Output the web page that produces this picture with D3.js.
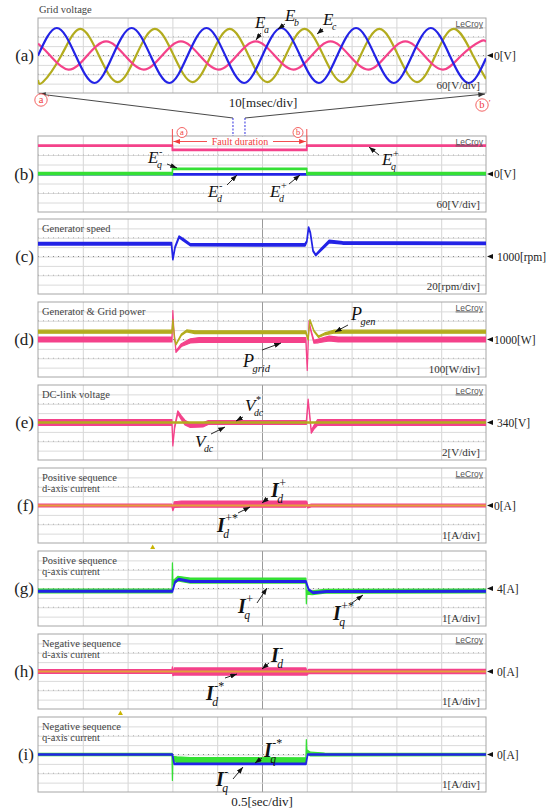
<!DOCTYPE html>
<html lang="en">
<head>
<meta charset="UTF-8">
<title>Fault ride-through waveforms</title>
<style>
  body { margin: 0; background: #fff; }
  svg { display: block; }
  text { font-family: 'Liberation Serif', 'DejaVu Serif', serif; }
</style>
</head>
<body>
<svg id="chart" width="550" height="812"></svg>
<script src="https://cdn.jsdelivr.net/npm/d3@7"></script>
<script>
// ---- data read off the scope captures -------------------------------------
// (a) grid phase voltages, [ms, V] at peaks / zero crossings
const ea = [[0,76],[2.7,0],[6.8,-90],[11.0,0],[15.2,90],[19.4,0],[23.6,-90],[27.7,0],[31.9,90],[36.1,0],[40.3,-90],[44.4,0],[48.6,90],[52.8,0],[57.0,-90],[61.1,0],[65.3,90],[69.5,0],[73.7,-90],[77.8,0],[82.0,90],[86.2,0],[90.4,-90],[94.5,0],[98.7,90],[100,87]];
const eb = [[0,-1],[4.2,176],[8.4,0],[12.6,-176],[16.7,0],[20.9,176],[25.1,0],[29.3,-176],[33.4,0],[37.6,176],[41.8,0],[46.0,-176],[50.1,0],[54.3,176],[58.5,0],[62.7,-176],[66.8,0],[71.0,176],[75.2,0],[79.4,-176],[83.5,0],[87.7,176],[91.9,0],[96.1,-176],[100,-18]];
const ec = [[0,-157],[1.1,-170],[5.2,0],[9.4,170],[13.6,0],[17.8,-170],[21.9,0],[26.1,170],[30.3,0],[34.5,-170],[38.6,0],[42.8,170],[47.0,0],[51.2,-170],[55.3,0],[59.5,170],[63.7,0],[67.9,-170],[72.0,0],[76.2,170],[80.4,0],[84.6,-170],[88.7,0],[92.9,170],[97.1,0],[100,-150]];

// (b)-(i): [s, value, noise half-band]
const eqPos = [[0,179,3],[1.5,179,3],[1.5,152,3],[3.0,152,3],[3.0,179,3],[5,179,3]];
const eqNeg = [[0,3,7],[1.5,3,7],[1.5,32,4],[3.0,32,4],[3.0,3,7],[5,3,7]];
const edNeg = [[0,0,3],[1.5,0,3],[1.5,-2,3],[3.0,-2,3],[3.0,0,3],[5,0,3]];

const speed = [[0,1027,2.5],[1.49,1027,2.5],[1.505,994,1],[1.53,1020,1],[1.575,1042,1.5],[1.62,1036,2],[1.7,1025,2],[2.98,1025,2.5],[3.0,1032,1],[3.02,1062,1],[3.04,1050,1],[3.07,1012,1],[3.1,1003,1],[3.16,1015,2],[3.25,1032,2.5],[3.4,1029,2.5],[5,1028,2.5]];

const pGen = [[0,1083,16],[1.495,1083,16],[1.505,1208,5],[1.525,1000,5],[1.54,949,6],[1.6,1050,8],[1.66,1092,10],[1.75,1078,15],[2.99,1077,15],[3.015,1000,5],[3.035,1208,5],[3.08,1090,6],[3.13,1030,8],[3.2,1060,10],[3.3,1083,16],[5,1083,16]];
const pGrid = [[0,1000,26],[1.495,1000,26],[1.505,1304,5],[1.515,1120,5],[1.54,870,8],[1.6,940,15],[1.7,985,22],[1.8,995,26],[2.99,995,26],[3.005,675,5],[3.025,1190,5],[3.05,1080,10],[3.08,975,15],[3.13,985,20],[3.25,1010,26],[3.35,1000,26],[5,1000,26]];

const vdcRef = [[0,340,0.12],[5,340,0.12]];
const vdc = [[0,340,0.6],[1.495,340,0.6],[1.505,335.2,0.2],[1.525,339,0.3],[1.56,342.2,0.3],[1.6,341,0.4],[1.64,340,0.5],[1.7,339.4,0.45],[1.84,339.5,0.45],[1.9,340,0.4],[2.995,340,0.4],[3.015,344.8,0.2],[3.035,341,0.3],[3.05,338,0.3],[3.08,339,0.4],[3.12,340,0.6],[5,340,0.6]];

const idPosRef = [[0,0,0.04],[5,0,0.04]];
const idPos = [[0,0,0.16],[1.495,0,0.16],[1.505,-0.45,0.1],[1.52,0.1,0.3],[1.6,0.15,0.33],[2.99,0.15,0.33],[3.0,0.3,0.15],[3.01,-0.1,0.15],[3.05,0,0.16],[5,0,0.16]];

const iqPosRef = [[0,3.73,0.2],[1.495,3.73,0.2],[1.5,6.69,0.05],[1.505,4.6,0.2],[1.56,5.05,0.25],[1.7,4.85,0.27],[2.99,4.85,0.27],[2.995,2.42,0.05],[3.0,3.6,0.2],[3.06,3.55,0.2],[3.2,3.7,0.2],[5,3.73,0.2]];
const iqPos = [[0,3.7,0.07],[1.5,3.7,0.07],[1.53,4.7,0.07],[1.57,4.98,0.07],[1.7,4.75,0.07],[2.99,4.75,0.07],[3.02,3.9,0.07],[3.07,3.55,0.07],[3.22,3.68,0.07],[5,3.7,0.07]];

const idNeg = [[0,0,0.2],[1.495,0,0.2],[1.5,0.4,0.1],[1.505,-0.35,0.1],[1.52,0,0.38],[2.99,0,0.38],[3.0,-0.2,0.2],[3.02,0,0.22],[5,0,0.22]];
const idNegRef = [[0,0,0.04],[5,0,0.04]];

const iqNegRef = [[0,0,0.12],[1.495,0,0.12],[1.5,-2.72,0.05],[1.505,-0.4,0.2],[1.55,-0.55,0.3],[1.7,-0.68,0.35],[2.99,-0.7,0.35],[2.995,1.55,0.05],[3.0,0.3,0.2],[3.04,0.05,0.2],[3.2,0,0.15],[5,0,0.12]];
const iqNeg = [[0,0,0.05],[1.5,0,0.05],[1.52,-1.0,0.05],[2.99,-1.0,0.05],[3.01,0,0.05],[5,0,0.05]];

const faultTimes = [1.5, 3.0];
const zoomWindow = [2.176, 2.31];
const triggerMarks = [[1.28, 'f'], [0.92, 'h']];

// ---- labels ---------------------------------------------------------------
const panelLetters = ['(a)','(b)','(c)','(d)','(e)','(f)','(g)','(h)','(i)'];
const panelTitles = [[], [], ['Generator speed'], ['Generator & Grid power'], ['DC-link voltage'],
  ['Positive sequence','d-axis current'], ['Positive sequence','q-axis current'],
  ['Negative sequence','d-axis current'], ['Negative sequence','q-axis current']];
const scaleLabels = ['60[V/div]','60[V/div]','20[rpm/div]','100[W/div]','2[V/div]','1[A/div]','1[A/div]','1[A/div]','1[A/div]'];
const refLabels = ['0[V]','0[V]',' 1000[rpm]','1000[W]',' 340[V]','0[A]',' 4[A]',' 0[A]',' 0[A]'];
const refValues = [0, 0, 1000, 1000, 340, 0, 4, 0, 0];
const domains = [[-240,240],[-240,240],[920,1080],[600,1400],[332,348],[-4,4],[0,8],[-4,4],[-4,4]];
const hasLeCroy = [true, true, false, true, true, true, false, true, false];

const colors = { blue: '#2323e6', olive: '#b3ac1e', pink: '#f4428a', green: '#35e035', orange: '#e3a03c', red: '#f03c3c' };

// ---- layout ---------------------------------------------------------------
const X0 = 38, X1 = 486;
const tops = [18, 136, 219, 302, 385, 468, 551, 634, 717];
const heights = [75, 76, 75, 75, 75, 75, 75, 75, 75];

const T = d3.scaleLinear().domain([0, 5]).range([X0, X1]);
const Tms = d3.scaleLinear().domain([0, 100]).range([X0, X1]);

const svg = d3.select('#chart');
const defs = svg.append('defs');

function marker(id, color) {
  defs.append('marker').attr('id', id).attr('viewBox', '0 0 8 6')
    .attr('refX', 8).attr('refY', 3).attr('markerWidth', 7).attr('markerHeight', 5)
    .attr('markerUnits', 'userSpaceOnUse').attr('orient', 'auto')
    .append('path').attr('d', 'M0,0L8,3L0,6Z').attr('fill', color);
}
marker('arrK', '#111');
marker('arrG', '#333');
marker('arrR', colors.red);

const panels = tops.map((top, i) => {
  const h = heights[i];
  return { i, top, h, x: i === 0 ? Tms : T,
    y: d3.scaleLinear().domain(domains[i]).range([top + h, top]) };
});

panels.forEach(p => {
  const g = svg.append('g');
  g.append('rect').attr('x', X0).attr('y', p.top).attr('width', X1 - X0).attr('height', p.h)
    .attr('fill', '#fff');

  const [lo, hi] = domains[p.i];
  const rows = d3.range(1, 8).map(k => lo + k * (hi - lo) / 8);

  g.append('g').attr('transform', `translate(0,${p.top + p.h})`)
    .call(d3.axisBottom(p.x).tickValues(p.x.ticks(10).slice(1, -1)).tickSize(-p.h).tickFormat(''))
    .call(s => s.select('.domain').remove())
    .call(s => s.selectAll('line').attr('stroke', (d, k) => (k === 4 && p.i > 1) ? '#9a9a9a' : '#d6d6d6'));

  g.append('g').attr('transform', `translate(${X0},0)`)
    .call(d3.axisLeft(p.y).tickValues(rows).tickSize(-(X1 - X0)).tickFormat(''))
    .call(s => s.select('.domain').remove())
    .call(s => s.selectAll('line').attr('stroke', '#dadada'));

  // dotted rows
  [1, 3, 5].forEach(k => {
    g.append('line').attr('x1', X0).attr('x2', X1)
      .attr('y1', p.y(rows[k])).attr('y2', p.y(rows[k]))
      .attr('stroke', k === 3 ? '#888' : '#b0b0b0').attr('stroke-dasharray', '1,4');
  });

  g.append('rect').attr('x', X0).attr('y', p.top).attr('width', X1 - X0).attr('height', p.h)
    .attr('fill', 'none').attr('stroke', '#a6a6a6');

  g.append('clipPath').attr('id', 'clip' + p.i).append('rect')
    .attr('x', X0).attr('y', p.top).attr('width', X1 - X0).attr('height', p.h);
  p.plot = svg.append('g').attr('clip-path', `url(#clip${p.i})`);

  // letters
  svg.append('text').attr('x', 34).attr('y', p.top + p.h / 2 + 5.5)
    .attr('text-anchor', 'end').attr('font-size', 17).attr('fill', '#222').text(panelLetters[p.i]);

  // titles
  panelTitles[p.i].forEach((t, k) => {
    svg.append('text').attr('x', 42).attr('y', p.top + 12.5 + k * 11.5)
      .attr('font-size', 10.5).attr('fill', '#444').text(t);
  });

  if (hasLeCroy[p.i]) {
    svg.append('text').attr('x', X1 - 3).attr('y', p.top + 8.5).attr('text-anchor', 'end')
      .style('font-family', "'Liberation Sans', Arial, sans-serif")
      .attr('font-size', 8.5).attr('fill', '#555').attr('text-decoration', 'underline').text('LeCroy');
  }

  svg.append('text').attr('x', X1 - 6).attr('y', p.top + p.h - 4).attr('text-anchor', 'end')
    .attr('font-size', 11).attr('fill', '#333').text(scaleLabels[p.i]);

  const ry = p.y(refValues[p.i]);
  svg.append('path').attr('d', `M${X1 + 1},${ry}L${X1 + 7},${ry - 2.6}L${X1 + 7},${ry + 2.6}Z`).attr('fill', '#111');
  svg.append('text').attr('x', X1 + 8).attr('y', ry + 4).attr('font-size', 11.5).attr('fill', '#222')
    .style('white-space', 'pre').text(refLabels[p.i]);
});

svg.append('text').attr('x', 39).attr('y', 13).attr('font-size', 10.5).attr('fill', '#444').text('Grid voltage');

// ---- traces ---------------------------------------------------------------
function wave(p, data, color) {
  const line = d3.line().x(d => p.x(d[0])).y(d => p.y(d[1])).curve(d3.curveNatural);
  p.plot.append('path').datum(data).attr('d', line).attr('fill', 'none')
    .attr('stroke', color).attr('stroke-width', 2.2);
}
function trace(p, data, color, w) {
  const area = d3.area().x(d => p.x(d[0])).y0(d => p.y(d[1] - d[2])).y1(d => p.y(d[1] + d[2]));
  p.plot.append('path').datum(data).attr('d', area).attr('fill', color)
    .attr('stroke', color).attr('stroke-width', w || 1.3).attr('stroke-linejoin', 'round');
}

const [pa, pb, pc, pd, pe, pf, pg, ph, pi] = panels;
wave(pa, ec, colors.olive);
wave(pa, ea, colors.pink);
wave(pa, eb, colors.blue);

trace(pb, eqPos, colors.pink, 1.8);
trace(pb, edNeg, colors.blue, 1.8);
trace(pb, eqNeg, colors.green, 1.5);

trace(pc, speed, colors.blue, 1.6);

trace(pd, pGrid, colors.pink, 1.2);
trace(pd, pGen, colors.olive, 1.2);

trace(pe, vdc, colors.pink, 1.2);
trace(pe, vdcRef, colors.olive, 1.6);

trace(pf, idPos, colors.pink, 1.2);
trace(pf, idPosRef, colors.orange, 1.3);

trace(pg, iqPosRef, colors.green, 1.2);
trace(pg, iqPos, colors.blue, 1.6);

trace(ph, idNeg, colors.pink, 1.2);
trace(ph, idNegRef, colors.orange, 1.3);

trace(pi, iqNegRef, colors.green, 1.2);
trace(pi, iqNeg, colors.blue, 1.6);

// ---- zoom link and fault marks ---------------------------------------------
const ann = svg.append('g');
const zx0 = T(zoomWindow[0]), zx1 = T(zoomWindow[1]);
ann.append('line').attr('x1', zx0).attr('y1', 118).attr('x2', X0 + 1).attr('y2', pa.top + pa.h + 1)
  .attr('stroke', '#333').attr('stroke-width', 0.9).attr('marker-end', 'url(#arrG)');
ann.append('line').attr('x1', zx1).attr('y1', 118).attr('x2', X1 - 1).attr('y2', pa.top + pa.h + 1)
  .attr('stroke', '#333').attr('stroke-width', 0.9).attr('marker-end', 'url(#arrG)');
[zx0, zx1].forEach(x => ann.append('line').attr('x1', x).attr('x2', x).attr('y1', 118).attr('y2', pb.top)
  .attr('stroke', '#3030e0').attr('stroke-width', 1).attr('stroke-dasharray', '2,1.5'));

ann.append('text').attr('x', 263).attr('y', 107).attr('text-anchor', 'middle')
  .attr('font-size', 13).attr('fill', '#222').text('10[msec/div]');
ann.append('text').attr('x', 262).attr('y', 806).attr('text-anchor', 'middle')
  .attr('font-size', 13).attr('fill', '#222').text('0.5[sec/div]');

function circled(x, y, ch, prime, r) {
  ann.append('circle').attr('cx', x).attr('cy', y).attr('r', r).attr('fill', '#fff')
    .attr('stroke', colors.red).attr('stroke-width', 0.8);
  ann.append('text').attr('x', x).attr('y', y + r * 0.55).attr('text-anchor', 'middle')
    .attr('font-size', r * 1.7).attr('fill', colors.red).text(ch);
  if (prime) ann.append('text').attr('x', x + r + 0.5).attr('y', y + 1).attr('font-size', 9)
    .attr('fill', colors.red).text('\u2032');
}
circled(41, 100, 'a', true, 6.2);
circled(482, 105, 'b', true, 6.2);

const fx0 = T(faultTimes[0]), fx1 = T(faultTimes[1]);
[fx0, fx1].forEach(x => ann.append('line').attr('x1', x).attr('x2', x).attr('y1', 129).attr('y2', 146)
  .attr('stroke', colors.red).attr('stroke-width', 0.9));
ann.append('rect').attr('x', 208).attr('y', 137).attr('width', 64).attr('height', 8).attr('fill', '#fff');
ann.append('line').attr('x1', 207).attr('x2', fx0 + 1).attr('y1', 141.5).attr('y2', 141.5)
  .attr('stroke', colors.red).attr('stroke-width', 0.9).attr('marker-end', 'url(#arrR)');
ann.append('line').attr('x1', 273).attr('x2', fx1 - 1).attr('y1', 141.5).attr('y2', 141.5)
  .attr('stroke', colors.red).attr('stroke-width', 0.9).attr('marker-end', 'url(#arrR)');
ann.append('text').attr('x', 240).attr('y', 144.5).attr('text-anchor', 'middle')
  .attr('font-size', 10).attr('fill', colors.red).text('Fault duration');
circled(182, 132.5, 'a', false, 5);
circled(298, 132.5, 'b', false, 5);

triggerMarks.forEach(([t, key]) => {
  const p = panels['abcdefghi'.indexOf(key)];
  const x = T(t), y = p.top + p.h + 4;
  ann.append('path').attr('d', `M${x},${y - 2.5}L${x + 2.5},${y + 2}L${x - 2.5},${y + 2}Z`).attr('fill', '#c9b400');
});

// ---- trace names ------------------------------------------------------------
const names = [
  ['E', null, 'a', 255, 28, 17, [261, 33, 256, 40]],
  ['E', null, 'b', 285, 21, 17, [285, 24, 278, 29]],
  ['E', null, 'c', 323, 25, 17, [323, 29, 317, 34]],
  ['E', '-', 'q', 148, 163, 17, [167, 164, 177, 168]],
  ['E', '-', 'd', 208, 197, 17, [227, 185, 237, 175]],
  ['E', '+', 'd', 270, 197, 17, [289, 184, 300, 175]],
  ['E', '+', 'q', 382, 165, 17, [379, 155, 369, 147]],
  ['P', null, 'gen', 351, 320, 18, [348, 325, 335, 332]],
  ['P', null, 'grid', 243, 367, 18, [262, 350, 281, 343]],
  ['V', '*', 'dc', 245, 411, 17, [243, 417, 236, 421]],
  ['V', null, 'dc', 195, 447, 17, [211, 434, 225, 427]],
  ['I', '+', 'd', 271, 497, 20, [268, 498, 262, 503]],
  ['I', '+*', 'd', 217, 532, 20, [238, 513, 250, 507]],
  ['I', '+', 'q', 238, 613, 20, [257, 603, 267, 588]],
  ['I', '+*', 'q', 333, 620, 20, [352, 603, 363, 595]],
  ['I', '-', 'd', 271, 662, 20, [269, 663, 262, 669]],
  ['I', '-*', 'd', 206, 700, 20, [225, 678, 237, 674]],
  ['I', '-*', 'q', 264, 757, 20, [262, 758, 255, 763]],
  ['I', '-', 'q', 216, 786, 20, [233, 779, 243, 767]]
];

names.forEach(([m, sup, sub, x, y, size, a]) => {
  const t = ann.append('text').attr('x', x).attr('y', y).attr('font-size', size)
    .attr('font-style', 'italic').attr('fill', '#111').attr('font-weight', m === 'I' ? 'bold' : 'normal').text(m);
  const w = t.node().getComputedTextLength();
  if (sup) ann.append('text').attr('x', x + w + 0.5).attr('y', y - size * 0.5)
    .attr('font-size', size * 0.6).attr('fill', '#111').text(sup);
  if (sub) ann.append('text').attr('x', x + w - 1.5).attr('y', y + size * 0.28)
    .attr('font-size', size * 0.58).attr('font-style', 'italic').attr('fill', '#111').text(sub);
  ann.append('line').attr('x1', a[0]).attr('y1', a[1]).attr('x2', a[2]).attr('y2', a[3])
    .attr('stroke', '#111').attr('stroke-width', 0.9).attr('marker-end', 'url(#arrK)');
});
</script>
</body>
</html>
